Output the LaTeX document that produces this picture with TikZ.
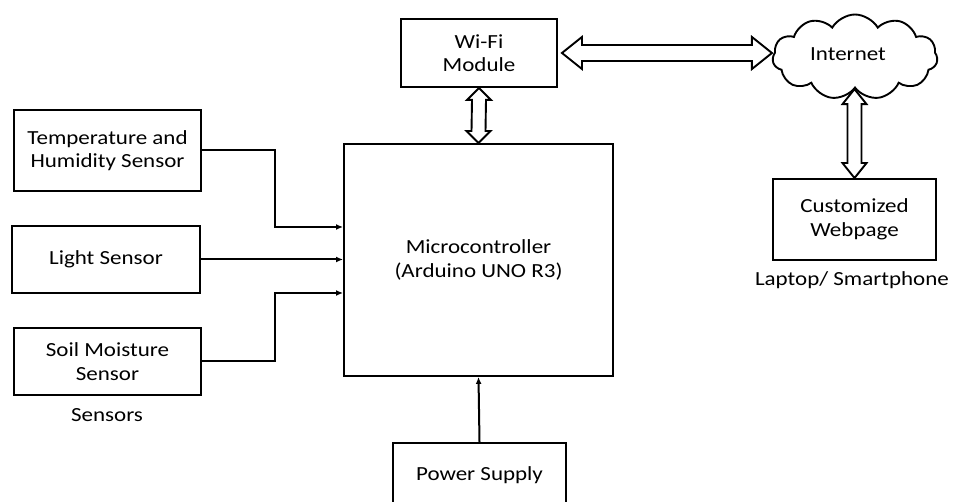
\documentclass[tikz,border=0pt]{standalone}
\usepackage{fontspec}
\setmainfont{Carlito}[FakeStretch=1.15]
\usepackage{tikz}
\usetikzlibrary{shapes.symbols, arrows.meta, positioning, calc}

\begin{document}
\begin{tikzpicture}[
    x=1pt, y=1pt,
    box/.style={draw, line width=1.9pt, inner sep=0pt, align=center,
                font=\fontsize{20}{23.5}\selectfont},
    lbl/.style={font=\fontsize{20}{23.5}\selectfont},
    arr/.style={-{Latex[length=7pt,width=6pt]}, line width=2pt},
    hollow/.style={draw, line width=1.9pt, line join=miter}
  ]
    \useasboundingbox (0,0) rectangle (956,-502);
    % sensors on the left
    \node[box, minimum width=187, minimum height=81] (temp)  at (107.5,-150.5)
      {Temperature and\\Humidity Sensor};
    \node[box, minimum width=188, minimum height=67] (light) at (106,-259.5)
      {Light Sensor};
    \node[box, minimum width=187, minimum height=67] (soil)  at (107.5,-361.5)
      {Soil Moisture\\Sensor};
    \node[lbl] (sens) at (107,-415) {Sensors};
    % controller, wifi and power
    \node[box, minimum width=269, minimum height=232] (mcu)  at (478.5,-260)
      {Microcontroller\\(Arduino UNO R3)};
    \node[box, minimum width=156, minimum height=68] (wifi)  at (479,-53)
      {Wi-Fi\\Module};
    \node[box, minimum width=173, minimum height=64] (power) at (479.5,-475)
      {Power Supply};
    % internet side
    \node[cloud, draw, line width=1.9pt, cloud puffs=11, cloud puff arc=120,
          aspect=2, minimum width=165, minimum height=85, inner sep=0pt,
          font=\fontsize{20}{23.5}\selectfont] (net) at (855,-57) {};
    \node[lbl] (nettxt) at (848,-54) {Internet};
    \node[box, minimum width=163, minimum height=81] (web)   at (854.5,-219.5)
      {Customized\\Webpage};
    \node[lbl] (dev) at (852,-280) {Laptop/ Smartphone};

    \draw[arr] (temp.east) -- ++(73,0) |- ([yshift=33]mcu.west);
    \draw[arr] (light.east) -- (mcu.west |- light.east);
    \draw[arr] (soil.east) -- ++(73,0) |- ([yshift=-33]mcu.west);
    \draw[arr] (power.north) -- (mcu.south);

    % hollow double arrows
    \coordinate (a1) at ($(wifi.east)+(4,0)$);
    \coordinate (b1) at (net.west |- wifi.east);
    \draw[hollow] (a1) -- ++(20,16) -- ++(0,-8) -- ($(b1)+(-20,8)$)
      -- ++(0,8) -- (b1) -- ++(-20,-16) -- ++(0,8) -- ($(a1)+(20,-8)$)
      -- ++(0,-8) -- cycle;
    \draw[hollow] (wifi.south) -- ++(12,-12) -- ++(-5,0) -- ($(mcu.north)+(7,12)$)
      -- ++(5,0) -- (mcu.north) -- ++(-12,12) -- ++(5,0) -- ($(wifi.south)+(-7,-12)$)
      -- ++(-5,0) -- cycle;
    \coordinate (a3) at (web.north |- net.south);
    \draw[hollow] (a3) -- ++(12,-15) -- ++(-5,0) -- ($(web.north)+(7,15)$)
      -- ++(5,0) -- (web.north) -- ++(-12,15) -- ++(5,0) -- ($(a3)+(-7,-15)$)
      -- ++(-5,0) -- cycle;
\end{tikzpicture}
\end{document}
